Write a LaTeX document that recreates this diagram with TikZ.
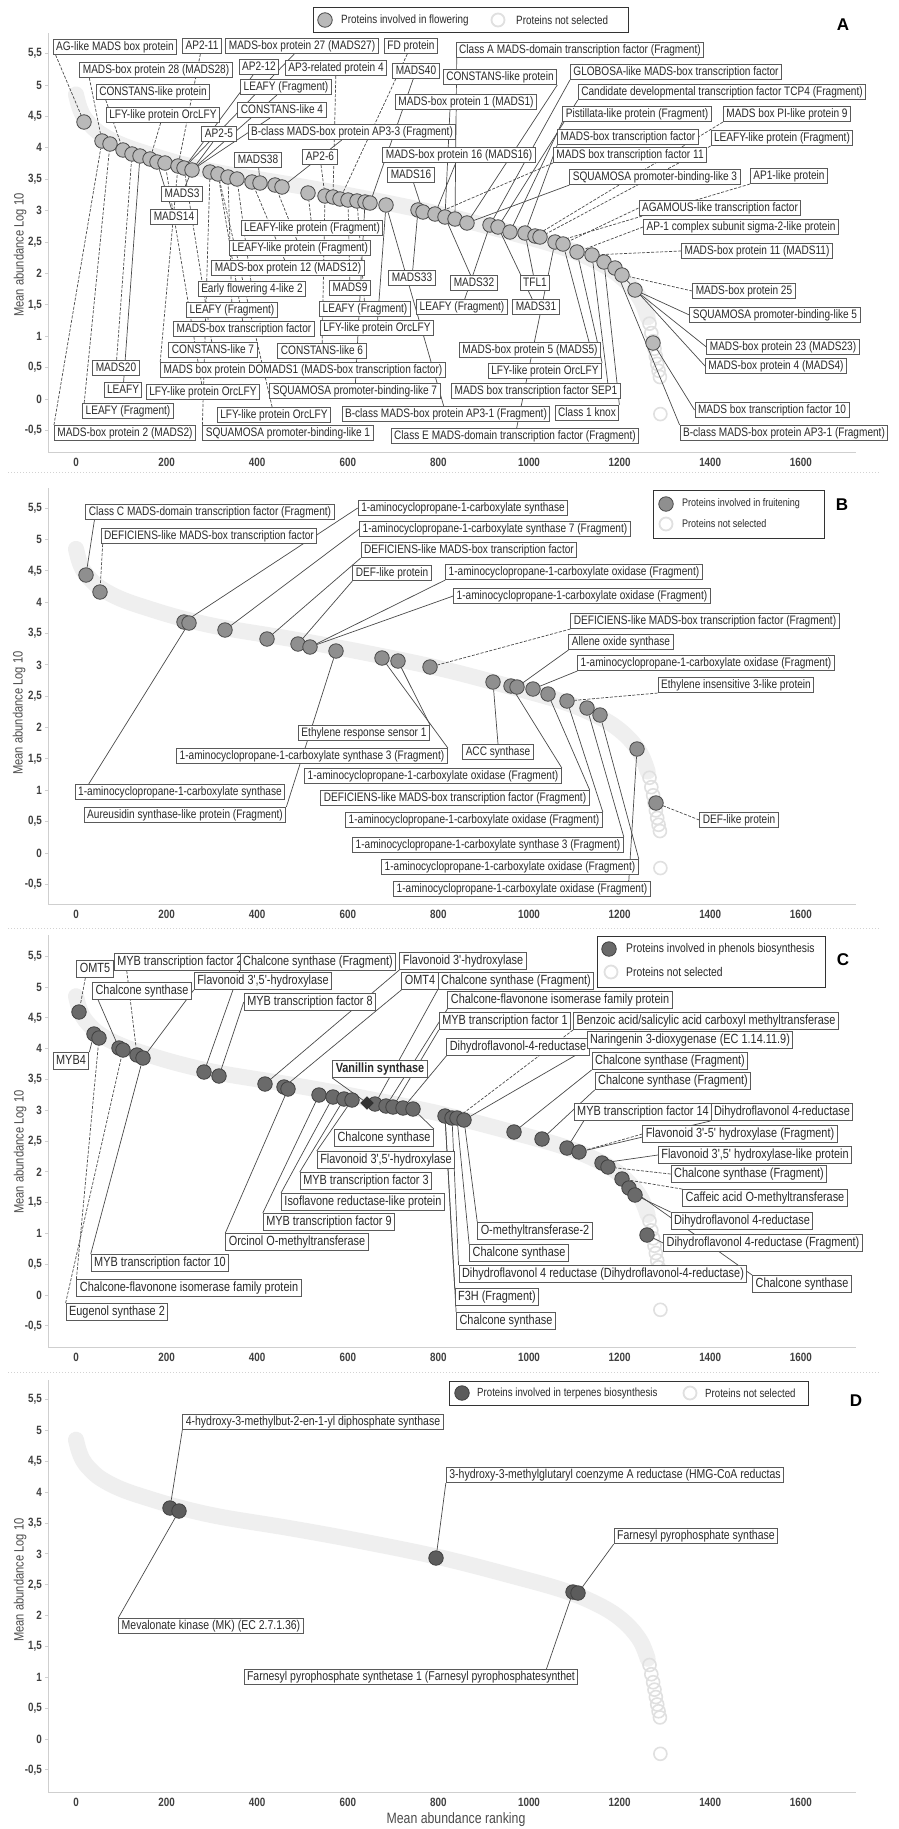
\documentclass[tikz,border=0pt]{standalone}
\usepackage{fontspec}
\setmainfont{Liberation Sans}
\newfontfamily\lf[FakeStretch=0.82]{Liberation Sans}
\usetikzlibrary{shapes.geometric}
\pgfdeclarelayer{bandlayer}
\pgfdeclarelayer{linelayer}
\pgfsetlayers{bandlayer,linelayer,main}
\definecolor{bandc}{HTML}{EFEFEF}
\definecolor{hollc}{HTML}{E0E0E0}
\definecolor{axc}{HTML}{CFCFCF}
\definecolor{boxc}{HTML}{5A5A5A}
\definecolor{txtc}{HTML}{2A2A2A}
\definecolor{lnc}{HTML}{4A4A4A}
\definecolor{fillA}{HTML}{B9B9B9}
\definecolor{fillB}{HTML}{8F8F8F}
\definecolor{fillC}{HTML}{6A6A6A}
\definecolor{fillD}{HTML}{5C5C5C}
\definecolor{ringc}{HTML}{4A4A4A}
\tikzset{
  lbl/.style={draw=boxc, line width=1pt, fill=white, text=txtc, inner xsep=3pt, inner ysep=1.8pt, text height=8.9pt, text depth=2.6pt, font=\lf\fontsize{12.3}{13}\selectfont},
  lblc/.style={lbl, text height=9.7pt, text depth=2.8pt, inner ysep=2.2pt, font=\lf\fontsize{13.3}{14}\selectfont},
  lbld/.style={lbl, font=\lf\fontsize{12.8}{13}\selectfont},
  dta/.style={circle, draw=ringc, line width=0.8pt, fill=fillA, minimum size=14.5pt, inner sep=0pt},
  dtb/.style={dta, fill=fillB},
  dtc/.style={dta, fill=fillC, draw=black!75},
  dtd/.style={dta, fill=fillD, draw=black!75},
  holl/.style={circle, draw=hollc, line width=1.8pt, minimum size=13pt, inner sep=0pt},
  ld/.style={draw=lnc, line width=0.7pt},
  ldd/.style={ld, dash pattern=on 3pt off 1.5pt},
  axl/.style={draw=axc, line width=1pt},
  tk/.style={font=\lf\bfseries\fontsize{12}{13}\selectfont, text=black!75, inner sep=1pt},
  ytl/.style={font=\lf\fontsize{13.6}{14}\selectfont, text=black!70, inner sep=1pt},
  lgt/.style={font=\lf\fontsize{12}{13}\selectfont, text=txtc, inner sep=1pt, anchor=west},
  lgbox/.style={draw=black!80, line width=0.8pt},
  pl/.style={font=\bfseries\fontsize{17}{18}\selectfont, inner sep=0pt},
  sepl/.style={draw=gray!35, line width=1pt, dotted},
}
\begin{document}
\begin{tikzpicture}[x=1pt,y=-1pt]
\begin{pgfonlayer}{bandlayer}
\fill[white] (0,0) rectangle (898,1829);
\foreach \yz/\sc in {399/62.8, 853/62.7, 1295/61.6, 1739/61.7}{
  \begin{scope}[shift={(76,\yz)}, x=0.453pt, y=\sc pt]
    \draw[bandc, line width=16pt, line cap=round] plot[smooth, tension=0.6] coordinates {(0,4.85) (6,4.68) (15,4.52) (30,4.38) (55,4.22) (100,4.05) (160,3.9) (230,3.75) (320,3.6) (470,3.42) (620,3.22) (800,2.95) (960,2.65) (1080,2.4) (1160,2.15) (1210,1.9) (1245,1.6) (1262,1.3)};
    \foreach \r/\v in {1266/1.2, 1270/1.05, 1274/0.92, 1277/0.8, 1280/0.68, 1283/0.56, 1286/0.45, 1289/0.35, 1290/-0.24}
      \draw[hollc, line width=1.6pt] (\r,\v) circle (6.5pt);
  \end{scope}
}
\end{pgfonlayer}
\useasboundingbox (0,0) rectangle (898,1829);

% axes
\foreach \yz/\sc/\ya/\yb/\nm in {399/62.8/33/452/A, 853/62.7/488/904/B, 1295/61.6/935/1347/C, 1739/61.7/1380/1792/D}{
  \draw[axl] (48,\ya) -- (48,\yb) -- (856,\yb);
  \foreach \v/\t [count=\i] in {5.5/{5,5},5/5,4.5/{4,5},4/4,3.5/{3,5},3/3,2.5/{2,5},2/2,1.5/{1,5},1/1,0.5/{0,5},0/0,-0.5/{-0,5}}{
    \pgfmathsetmacro\yy{\yz-\sc*\v}
    \draw[axl] (45,\yy) -- (48,\yy);
    \node[tk, anchor=east] (yt\nm\i) at (43,\yy) {\t};
  }
  \foreach \r in {0,200,...,1600}{
    \pgfmathsetmacro\xx{76+0.453*\r}
    \node[tk] (xt\nm\r) at (\xx,\yb+10) {\r};
  }
}
\draw[sepl] (8,472) -- (880,472);
\draw[sepl] (8,928) -- (880,928);
\draw[sepl] (8,1372) -- (880,1372);

\node[ytl, rotate=90] (yA) at (20,255) {Mean abundance Log 10};
\node[ytl, rotate=90] (yB) at (19,713) {Mean abundance Log 10};
\node[ytl, rotate=90] (yC) at (20,1152) {Mean abundance Log 10};
\node[ytl, rotate=90] (yD) at (20,1580) {Mean abundance Log 10};
\node[ytl, font=\lf\fontsize{15}{16}\selectfont] (xD) at (456,1820) {Mean abundance ranking};

% panel letters
\node[pl] (pA) at (843,25) {A};
\node[pl] (pB) at (842,505) {B};
\node[pl] (pC) at (843,960) {C};
\node[pl] (pD) at (856,1401) {D};

% legends
\draw[lgbox] (313,7) rectangle (628,32);
\node[dta] (lgA1) at (325,20) {};
\node[lgt] (lgA2) at (340,20) {Proteins involved in flowering};
\node[holl] (lgA3) at (498,20) {};
\node[lgt] (lgA4) at (515,20) {Proteins not selected};

\draw[lgbox] (653,490) rectangle (824,538);
\node[dtb] (lgB1) at (666,504) {};
\node[lgt, font=\lf\fontsize{11}{12}\selectfont] (lgB2) at (681,504) {Proteins involved in fruitening};
\node[holl] (lgB3) at (666,524) {};
\node[lgt, font=\lf\fontsize{11}{12}\selectfont] (lgB4) at (681,524) {Proteins not selected};

\draw[lgbox] (597,936) rectangle (825,987);
\node[dtc] (lgC1) at (609,949) {};
\node[lgt, font=\lf\fontsize{12.6}{13}\selectfont] (lgC2) at (625,949) {Proteins involved in phenols biosynthesis};
\node[holl] (lgC3) at (611,972) {};
\node[lgt, font=\lf\fontsize{12.6}{13}\selectfont] (lgC4) at (625,972) {Proteins not selected};

\draw[lgbox] (449,1381) rectangle (808,1405);
\node[dtd] (lgD1) at (462,1393) {};
\node[lgt, font=\lf\fontsize{11.8}{12}\selectfont] (lgD2) at (476,1393) {Proteins involved in terpenes biosynthesis};
\node[holl] (lgD3) at (690,1393) {};
\node[lgt, font=\lf\fontsize{11.8}{12}\selectfont] (lgD4) at (704,1393) {Proteins not selected};

% ---------------- Panel A dots
\foreach \n/\x/\y in {a1/84/122, a2/102/141, a3/110/144, a4/123/150, a5/132/154, a6/140/156, a7/150/159, a8/157/162, a9/165/163, a10/178/166, a11/184/168, a12/192/170, a13/210/172, a14/218/174, a15/228/177, a16/237/179, a17/252/182, a18/260/183, a19/275/185, a20/282/187, a21/308/193, a22/325/196, a23/333/197, a24/340/199, a25/348/200, a26/357/201, a27/365/202, a50/370/203, a28/386/205, a29/418/210, a30/423/212, a31/435/214, a32/445/217, a33/455/219, a34/467/223, a35/490/225, a36/498/227, a37/510/232, a38/525/233, a39/535/236, a40/540/237, a41/555/242, a42/563/244, a43/577/252, a44/592/255, a45/604/262, a46/615/268, a47/622/275, a48/635/290, a49/653/343}
  \node[dta] (\n) at (\x,\y) {};

% Panel A labels
\node[lbl] (LA1) at (115,47) {AG-like MADS box protein};
\node[lbl] (LA2) at (202,46) {AP2-11};
\node[lbl] (LA3) at (302,46) {MADS-box protein 27 (MADS27)};
\node[lbl] (LA4) at (411,46) {FD protein};
\node[lbl] (LA5) at (580,50) {Class A MADS-domain transcription factor (Fragment)};
\node[lbl] (LA6) at (156,70) {MADS-box protein 28 (MADS28)};
\node[lbl] (LA7) at (259,67) {AP2-12};
\node[lbl] (LA8) at (336,68) {AP3-related protein 4};
\node[lbl] (LA9) at (416,71) {MADS40};
\node[lbl] (LA10) at (153,92) {CONSTANS-like protein};
\node[lbl] (LA11) at (286,87) {LEAFY (Fragment)};
\node[lbl] (LA12) at (163,115) {LFY-like protein OrcLFY};
\node[lbl] (LA13) at (282,110) {CONSTANS-like 4};
\node[lbl] (LA14) at (219,134) {AP2-5};
\node[lbl] (LA15) at (352,132) {B-class MADS-box protein AP3-3 (Fragment)};
\node[lbl] (LA16) at (320,157) {AP2-6};
\node[lbl] (LA17) at (459,155) {MADS-box protein 16 (MADS16)};
\node[lbl] (LA18) at (466,102) {MADS-box protein 1 (MADS1)};
\node[lbl] (LA19) at (500,77) {CONSTANS-like protein};
\node[lbl] (LA20) at (258,160) {MADS38};
\node[lbl] (LA21) at (411,175) {MADS16};
\node[lbl] (LA22) at (182,194) {MADS3};
\node[lbl] (LA23) at (174,217) {MADS14};
\node[lbl] (LA24) at (312,228) {LEAFY-like protein (Fragment)};
\node[lbl] (LA25) at (300,248) {LEAFY-like protein (Fragment)};
\node[lbl] (LA26) at (288,268) {MADS-box protein 12 (MADS12)};
\node[lbl] (LA27) at (252,289) {Early flowering 4-like 2};
\node[lbl] (LA28) at (350,288) {MADS9};
\node[lbl] (LA29) at (412,278) {MADS33};
\node[lbl] (LA30) at (232,310) {LEAFY (Fragment)};
\node[lbl] (LA31) at (365,309) {LEAFY (Fragment)};
\node[lbl] (LA32) at (462,307) {LEAFY (Fragment)};
\node[lbl] (LA33) at (474,283) {MADS32};
\node[lbl] (LA34) at (535,283) {TFL1};
\node[lbl] (LA35) at (536,307) {MADS31};
\node[lbl] (LA36) at (244,329) {MADS-box transcription factor};
\node[lbl] (LA37) at (377,328) {LFY-like protein OrcLFY};
\node[lbl] (LA38) at (213,350) {CONSTANS-like 7};
\node[lbl] (LA39) at (322,351) {CONSTANS-like 6};
\node[lbl] (LA40) at (116,368) {MADS20};
\node[lbl] (LA41) at (303,370) {MADS box protein DOMADS1 (MADS-box transcription factor)};
\node[lbl] (LA42) at (530,350) {MADS-box protein 5 (MADS5)};
\node[lbl] (LA43) at (123,390) {LEAFY};
\node[lbl] (LA44) at (203,392) {LFY-like protein OrcLFY};
\node[lbl] (LA45) at (355,391) {SQUAMOSA promoter-binding-like 7};
\node[lbl] (LA46) at (545,371) {LFY-like protein OrcLFY};
\node[lbl] (LA47) at (536,391) {MADS box transcription factor SEP1};
\node[lbl] (LA48) at (128,411) {LEAFY (Fragment)};
\node[lbl] (LA49) at (274,415) {LFY-like protein OrcLFY};
\node[lbl] (LA50) at (446,414) {B-class MADS-box protein AP3-1 (Fragment)};
\node[lbl] (LA51) at (587,413) {Class 1 knox};
\node[lbl] (LA52) at (125,433) {MADS-box protein 2 (MADS2)};
\node[lbl] (LA53) at (288,433) {SQUAMOSA promoter-binding-like 1};
\node[lbl] (LA54) at (515,436) {Class E MADS-domain transcription factor (Fragment)};
\node[lbl] (LA55) at (676,72) {GLOBOSA-like MADS-box transcription factor};
\node[lbl] (LA56) at (722,92) {Candidate developmental transcription factor TCP4 (Fragment)};
\node[lbl] (LA57) at (637,114) {Pistillata-like protein (Fragment)};
\node[lbl] (LA58) at (787,114) {MADS box PI-like protein 9};
\node[lbl] (LA59) at (628,137) {MADS-box transcription factor};
\node[lbl] (LA60) at (782,138) {LEAFY-like protein (Fragment)};
\node[lbl] (LA61) at (630,155) {MADS box transcription factor 11};
\node[lbl] (LA62) at (655,177) {SQUAMOSA promoter-binding-like 3};
\node[lbl] (LA63) at (789,176) {AP1-like protein};
\node[lbl] (LA64) at (720,208) {AGAMOUS-like transcription factor};
\node[lbl] (LA65) at (741,227) {AP-1 complex subunit sigma-2-like protein};
\node[lbl] (LA66) at (757,251) {MADS-box protein 11 (MADS11)};
\node[lbl] (LA67) at (744,291) {MADS-box protein 25};
\node[lbl] (LA68) at (775,315) {SQUAMOSA promoter-binding-like 5};
\node[lbl] (LA69) at (783,347) {MADS-box protein 23 (MADS23)};
\node[lbl] (LA70) at (776,366) {MADS-box protein 4 (MADS4)};
\node[lbl] (LA71) at (772,410) {MADS box transcription factor 10};
\node[lbl] (LA72) at (784,433) {B-class MADS-box protein AP3-1 (Fragment)};

% ---------------- Panel B
\foreach \n/\x/\y in {b1/86/575, b2/100/592, b3/184/622, b4/189/623, b5/225/630, b6/267/639, b7/298/644, b8/310/647, b9/336/651, b10/382/658, b11/398/661, b12/430/667, b13/493/682, b14/511/686, b15/517/687, b16/533/689, b17/548/694, b18/567/701, b19/587/708, b20/600/715, b21/637/749, b22/656/803}
  \node[dtb] (\n) at (\x,\y) {};
\node[lbl] (LB1) at (210,512) {Class C MADS-domain transcription factor (Fragment)};
\node[lbl] (LB2) at (209,536) {DEFICIENS-like MADS-box transcription factor};
\node[lbl] (LB3) at (463,508) {1-aminocyclopropane-1-carboxylate synthase};
\node[lbl] (LB4) at (495,529) {1-aminocyclopropane-1-carboxylate synthase 7 (Fragment)};
\node[lbl] (LB5) at (469,550) {DEFICIENS-like MADS-box transcription factor};
\node[lbl] (LB6) at (392,573) {DEF-like protein};
\node[lbl] (LB7) at (574,572) {1-aminocyclopropane-1-carboxylate oxidase (Fragment)};
\node[lbl] (LB8) at (582,596) {1-aminocyclopropane-1-carboxylate oxidase (Fragment)};
\node[lbl] (LB9) at (705,621) {DEFICIENS-like MADS-box transcription factor (Fragment)};
\node[lbl] (LB10) at (621,642) {Allene oxide synthase};
\node[lbl] (LB11) at (706,663) {1-aminocyclopropane-1-carboxylate oxidase (Fragment)};
\node[lbl] (LB12) at (736,685) {Ethylene insensitive 3-like protein};
\node[lbl] (LB13) at (364,733) {Ethylene response sensor 1};
\node[lbl] (LB14) at (312,756) {1-aminocyclopropane-1-carboxylate synthase 3 (Fragment)};
\node[lbl] (LB15) at (498,752) {ACC synthase};
\node[lbl] (LB16) at (433,776) {1-aminocyclopropane-1-carboxylate oxidase (Fragment)};
\node[lbl] (LB17) at (180,792) {1-aminocyclopropane-1-carboxylate synthase};
\node[lbl] (LB18) at (455,798) {DEFICIENS-like MADS-box transcription factor (Fragment)};
\node[lbl] (LB19) at (185,815) {Aureusidin synthase-like protein (Fragment)};
\node[lbl] (LB20) at (474,820) {1-aminocyclopropane-1-carboxylate oxidase (Fragment)};
\node[lbl] (LB21) at (739,820) {DEF-like protein};
\node[lbl] (LB22) at (488,845) {1-aminocyclopropane-1-carboxylate synthase 3 (Fragment)};
\node[lbl] (LB23) at (510,867) {1-aminocyclopropane-1-carboxylate oxidase (Fragment)};
\node[lbl] (LB24) at (522,889) {1-aminocyclopropane-1-carboxylate oxidase (Fragment)};

% ---------------- Panel C
\foreach \n/\x/\y in {c1/79/1012, c2/94/1034, c3/99/1038, c4/119/1048, c5/123/1050, c6/137/1055, c7/143/1058, c8/204/1072, c9/219/1076, c10/265/1084, c11/284/1087, c12/288/1089, c13/319/1095, c14/333/1097, c15/344/1099, c16/352/1100, c17/375/1104, c18/386/1106, c19/393/1107, c20/403/1108, c21/413/1109, c22/445/1116, c23/452/1118, c24/457/1118, c25/464/1120, c26/514/1132, c27/542/1139, c28/567/1148, c29/579/1152, c30/602/1163, c31/608/1167, c32/622/1179, c33/629/1188, c34/635/1195, c35/647/1235}
  \node[dtc] (\n) at (\x,\y) {};
\node[diamond, fill=black!80, draw=black!85, minimum size=13pt, inner sep=0pt] (vd) at (367,1103) {};
\node[lblc] (LC1) at (95,969) {OMT5};
\node[lblc] (LC2) at (180,962) {MYB transcription factor 2};
\node[lblc] (LC3) at (318,962) {Chalcone synthase (Fragment)};
\node[lblc] (LC4) at (463,961) {Flavonoid 3'-hydroxylase};
\node[lblc] (LC5) at (142,991) {Chalcone synthase};
\node[lblc] (LC6) at (263,981) {Flavonoid 3',5'-hydroxylase};
\node[lblc] (LC7) at (420,981) {OMT4};
\node[lblc] (LC8) at (516,981) {Chalcone synthase (Fragment)};
\node[lblc] (LC9) at (310,1002) {MYB transcription factor 8};
\node[lblc] (LC10) at (71,1061) {MYB4};
\node[lblc, font=\lf\bfseries\fontsize{13.3}{14}\selectfont] (LC11) at (380,1069) {Vanillin synthase};
\node[lblc] (LC12) at (560,1000) {Chalcone-flavonone isomerase family protein};
\node[lblc] (LC13) at (505,1021) {MYB transcription factor 1};
\node[lblc] (LC14) at (706,1021) {Benzoic acid/salicylic acid carboxyl methyltransferase};
\node[lblc] (LC15) at (518,1047) {Dihydroflavonol-4-reductase};
\node[lblc] (LC16) at (690,1040) {Naringenin 3-dioxygenase (EC 1.14.11.9)};
\node[lblc] (LC17) at (670,1061) {Chalcone synthase (Fragment)};
\node[lblc] (LC18) at (673,1081) {Chalcone synthase (Fragment)};
\node[lblc] (LC19) at (643,1112) {MYB transcription factor 14};
\node[lblc] (LC20) at (782,1112) {Dihydroflavonol 4-reductase};
\node[lblc] (LC21) at (740,1134) {Flavonoid 3'-5' hydroxylase (Fragment)};
\node[lblc] (LC22) at (755,1155) {Flavonoid 3',5' hydroxylase-like protein};
\node[lblc] (LC23) at (749,1174) {Chalcone synthase (Fragment)};
\node[lblc] (LC24) at (765,1198) {Caffeic acid O-methyltransferase};
\node[lblc] (LC25) at (742,1221) {Dihydroflavonol 4-reductase};
\node[lblc] (LC26) at (763,1243) {Dihydroflavonol 4-reductase (Fragment)};
\node[lblc] (LC27) at (802,1284) {Chalcone synthase};
\node[lblc] (LC28) at (384,1138) {Chalcone synthase};
\node[lblc] (LC29) at (386,1160) {Flavonoid 3',5'-hydroxylase};
\node[lblc] (LC30) at (366,1181) {MYB transcription factor 3};
\node[lblc] (LC31) at (363,1202) {Isoflavone reductase-like protein};
\node[lblc] (LC32) at (329,1222) {MYB transcription factor 9};
\node[lblc] (LC33) at (297,1242) {Orcinol O-methyltransferase};
\node[lblc] (LC34) at (160,1263) {MYB transcription factor 10};
\node[lblc] (LC35) at (189,1288) {Chalcone-flavonone isomerase family protein};
\node[lblc] (LC36) at (117,1312) {Eugenol synthase 2};
\node[lblc] (LC37) at (535,1231) {O-methyltransferase-2};
\node[lblc] (LC38) at (519,1253) {Chalcone synthase};
\node[lblc] (LC39) at (603,1274) {Dihydroflavonol 4 reductase (Dihydroflavonol-4-reductase)};
\node[lblc] (LC40) at (497,1297) {F3H (Fragment)};
\node[lblc] (LC41) at (506,1321) {Chalcone synthase};

% ---------------- Panel D
\foreach \n/\x/\y in {d1/170/1508, d2/179/1511, d3/436/1558, d4/573/1592, d5/578/1593}
  \node[dtd] (\n) at (\x,\y) {};
\node[lbld] (LD1) at (313,1422) {4-hydroxy-3-methylbut-2-en-1-yl diphosphate synthase};
\node[lbld] (LD2) at (615,1475) {3-hydroxy-3-methylglutaryl coenzyme A reductase (HMG-CoA reductas};
\node[lbld] (LD3) at (696,1536) {Farnesyl pyrophosphate synthase};
\node[lbld] (LD4) at (211,1626) {Mevalonate kinase (MK) (EC 2.7.1.36)};
\node[lbld] (LD5) at (411,1677) {Farnesyl pyrophosphate synthetase 1 (Farnesyl pyrophosphatesynthet};

% ---------------- connectors
\begin{pgfonlayer}{linelayer}
% A
\draw[ldd] ([xshift=3pt]LA1.south west) -- (a1);
\draw[ldd] (LA2) -- (a10);
\draw[ld] (LA3) -- (a11);
\draw[ldd] (LA4) -- (a24);
\draw[ld] ([xshift=1pt]LA5.south west) -- (a33);
\draw[ldd] ([xshift=10pt]LA6.south west) -- (a2);
\draw[ld] (LA7) -- (a11);
\draw[ldd] (LA8) -- (a23);
\draw[ld] (LA9) -- (a50);
\draw[ldd] ([xshift=10pt]LA10.south west) -- (a4);
\draw[ld] (LA11) -- (a12);
\draw[ldd] (LA12) -- (a7);
\draw[ld] (LA13) -- (a12);
\draw[ld] (LA14) -- (a12);
\draw[ld] (LA15) -- (a20);
\draw[ldd] (LA16) -- (a22);
\draw[ld] (LA17) -- (a31);
\draw[ld] ([xshift=55pt]LA18.south west) -- (a32);
\draw[ld] (LA19.south east) -- (a34);
\draw[ld] (LA20) -- (a18);
\draw[ld] (LA21) -- (a30);
\draw[ld] (LA22) -- (a12);
\draw[ld] (LA23) -- (a8);
\draw[ldd] (LA24) -- (a21);
\draw[ldd] (LA25) -- (a19);
\draw[ldd] (LA26) -- (a17);
\draw[ldd] (LA27) -- (a16);
\draw[ldd] (LA28) -- (a25);
\draw[ld] (LA29) -- (a29);
\draw[ldd] (LA30) -- (a15);
\draw[ldd] (LA31) -- (a26);
\draw[ld] (LA32) -- (a35);
\draw[ld] (LA33) -- (a32);
\draw[ld] (LA34) -- (a38);
\draw[ld] (LA35) -- (a36);
\draw[ldd] (LA36) -- (a14);
\draw[ld] (LA37) -- (a28);
\draw[ldd] (LA38) -- (a11);
\draw[ldd] (LA39) -- (a22);
\draw[ldd] (LA40) -- (a5);
\draw[ldd] (LA41.north west) -- (a10);
\draw[ld] ([xshift=-12pt]LA42.north east) -- (a42);
\draw[ld] (LA43) -- (a6);
\draw[ldd] (LA44) -- (a9);
\draw[ld] (LA45) -- (a27);
\draw[ld] (LA46.north east) -- (a43);
\draw[ld] ([xshift=-13pt]LA47.north east) -- (a44);
\draw[ldd] ([xshift=2pt]LA48.north west) -- (a3);
\draw[ldd] (LA49) -- (a14);
\draw[ld] (LA50) -- (a28);
\draw[ld] (LA51.north east) -- (a45);
\draw[ldd] (LA52.north west) -- (a2);
\draw[ldd] (LA53.north west) -- (a13);
\draw[ld] (LA54) -- (a41);
\draw[ld] (LA55.south west) -- (a35);
\draw[ld] (LA56.south west) -- (a36);
\draw[ld] (LA57.south west) -- (a37);
\draw[ldd] (LA58.south west) -- (a39);
\draw[ld] (LA59.south west) -- (a38);
\draw[ldd] (LA60.south west) -- (a40);
\draw[ldd] (LA61.south west) -- (a31);
\draw[ld] (LA62.south west) -- (a34);
\draw[ldd] (LA63.south west) -- (a41);
\draw[ldd] (LA64.west) -- (a42);
\draw[ldd] (LA65.west) -- (a43);
\draw[ldd] (LA66.west) -- (a44);
\draw[ldd] (LA67.west) -- (a47);
\draw[ld] (LA68.west) -- (a48);
\draw[ld] (LA69.west) -- (a48);
\draw[ld] (LA70.west) -- (a47);
\draw[ld] (LA71.west) -- (a49);
\draw[ld] (LA72.north west) -- (a46);
% B
\draw[ld] ([xshift=9pt]LB1.south west) -- (b1);
\draw[ldd] ([xshift=2pt]LB2.south west) -- (b2);
\draw[ld] (LB3.west) -- (b3);
\draw[ld] (LB4.west) -- (b5);
\draw[ld] (LB5.south west) -- (b6);
\draw[ld] (LB6.south west) -- (b7);
\draw[ld] (LB7.south west) -- (b8);
\draw[ld] (LB8.west) -- (b8);
\draw[ldd] (LB9.south west) -- (b12);
\draw[ld] (LB10.south west) -- (b15);
\draw[ld] (LB11.south west) -- (b16);
\draw[ldd] (LB12.south west) -- (b18);
\draw[ld] (LB13.north east) -- (b11);
\draw[ld] (LB14.north east) -- (b10);
\draw[ld] (LB15.north) -- (b13);
\draw[ld] (LB16.north east) -- (b14);
\draw[ld] ([xshift=14pt]LB17.north west) -- (b4);
\draw[ld] (LB18.north east) -- (b17);
\draw[ld] (LB19.north east) -- (b9);
\draw[ld] (LB20.north east) -- (b18);
\draw[ldd] (LB21.west) -- (b22);
\draw[ld] (LB22.north east) -- (b19);
\draw[ld] (LB23.north east) -- (b20);
\draw[ld] ([xshift=-22pt]LB24.north east) -- (b21);
% C
\draw[ldd] ([xshift=9pt]LC1.south west) -- (c1);
\draw[ldd] ([xshift=13pt]LC2.south west) -- (c6);
\draw[ld] (LC3.south west) -- (c8);
\draw[ld] (LC4.south west) -- (c10);
\draw[ld] ([xshift=6pt]LC5.south west) -- (c4);
\draw[ld] (LC6.south west) -- (c7);
\draw[ld] (LC7.south west) -- (c11);
\draw[ld] (LC8.south west) -- (c17);
\draw[ld] (LC9.west) -- (c9);
\draw[ld] (LC10.north east) -- (c2);
\draw[ld] (LC11.south west) -- (vd);
\draw[ld] (LC12.south west) -- (c18);
\draw[ld] (LC13.south west) -- (c19);
\draw[ldd] (LC14.south west) -- (c24);
\draw[ld] (LC15.south west) -- (c20);
\draw[ld] (LC16.south west) -- (c25);
\draw[ld] (LC17.south west) -- (c26);
\draw[ld] (LC18.south west) -- (c27);
\draw[ld] ([xshift=10pt]LC19.south west) -- (c28);
\draw[ld] (LC20.south west) -- (c29);
\draw[ldd] (LC21.west) -- (c29);
\draw[ld] (LC22.west) -- (c30);
\draw[ldd] (LC23.west) -- (c31);
\draw[ldd] (LC24.north west) -- (c32);
\draw[ld] (LC25.north west) -- (c34);
\draw[ld] (LC26.west) -- (c35);
\draw[ld] (LC27.north west) -- (c33);
\draw[ld] (LC28.north east) -- (c21);
\draw[ld] (LC29.north west) -- (c16);
\draw[ld] (LC30.north west) -- (c15);
\draw[ld] (LC31.north west) -- (c14);
\draw[ld] (LC32.north west) -- (c13);
\draw[ld] (LC33.north west) -- (c12);
\draw[ld] (LC34.north west) -- (c7);
\draw[ldd] (LC35.north west) -- (c3);
\draw[ldd] (LC36.north west) -- (c5);
\draw[ld] (LC37.north west) -- (c25);
\draw[ld] (LC38.north west) -- (c24);
\draw[ld] (LC39.north west) -- (c23);
\draw[ld] (LC40.north west) -- (c22);
\draw[ld] (LC41.north west) -- (c22);
% D
\draw[ld] (LD1.south west) -- (d1);
\draw[ld] (LD2.south west) -- (d3);
\draw[ld] (LD3.south west) -- (d5);
\draw[ld] (LD4.north west) -- (d2);
\draw[ld] ([xshift=-32pt]LD5.north east) -- (d4);
\end{pgfonlayer}
\end{tikzpicture}
\end{document}
